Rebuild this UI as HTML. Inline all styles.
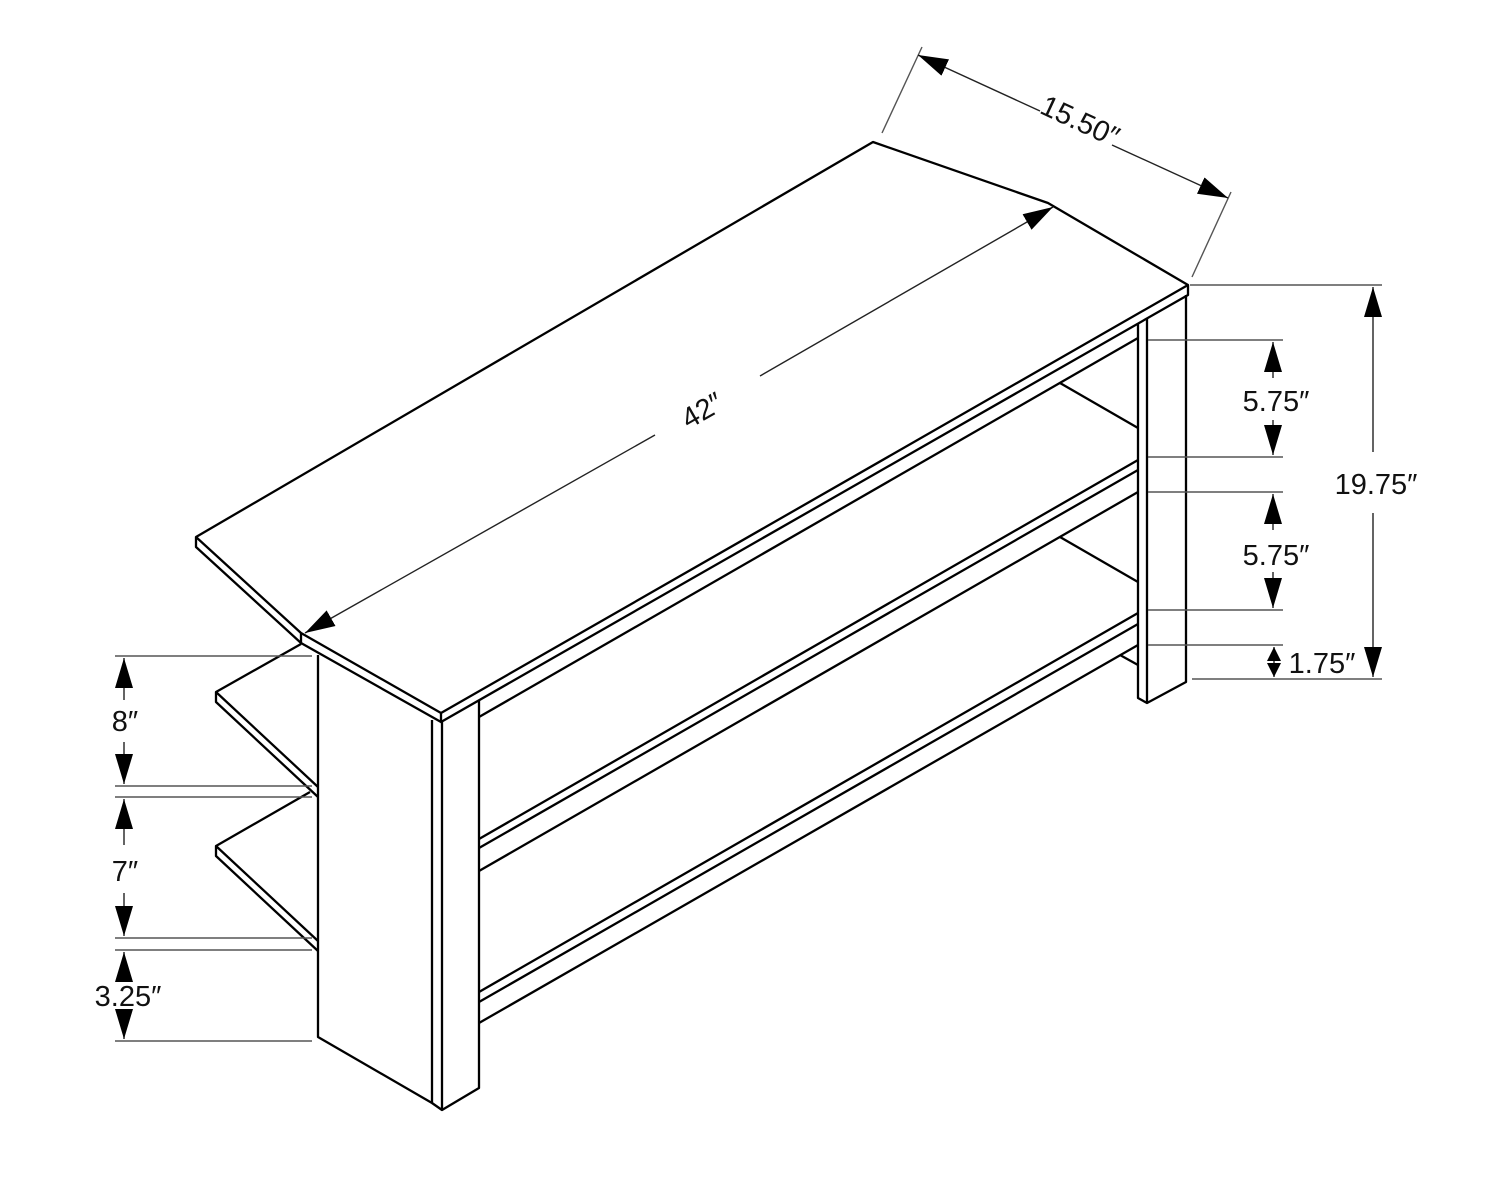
<!DOCTYPE html>
<html><head><meta charset="utf-8"><style>
html,body{margin:0;padding:0;background:#fff}
svg{display:block}
text{font-family:"Liberation Sans",sans-serif;font-size:29px;fill:#111}
</style></head><body>
<svg width="1500" height="1178" viewBox="0 0 1500 1178" xmlns="http://www.w3.org/2000/svg">
<defs>
<marker id="ar" viewBox="0 0 10 10" refX="10" refY="5" markerWidth="14" markerHeight="14" markerUnits="userSpaceOnUse" orient="auto"><path d="M0,0 L10,5 L0,10 z" fill="#000"/></marker>
<marker id="arL" viewBox="0 0 10 10" refX="10" refY="5" markerWidth="30" markerHeight="30" markerUnits="userSpaceOnUse" orient="auto"><path d="M0,2 L10,5 L0,8 z" fill="#000"/></marker>
</defs>
<g fill="none" stroke="#000" stroke-width="2.3" stroke-linejoin="round">
<path d="M196,537 L873,142 L1048,203 L1188,285 L1188,295 L441,722 L441,713 L301,633 L196,537 L196,547 L301,643 L441,722"/>
<path d="M301,633 L301,643 M441,713 L1188,285"/>
<path d="M318,655 L318,1037 L432,1103 L442,1110 L479,1088 L479,700"/>
<path d="M432,720 L432,1103 M442,722 L442,1110"/>
<path d="M1138,323 L1138,698 L1147,703 L1186,682 L1186,295 M1147,318 L1147,703"/>
<path d="M479,717 L1138,338"/>
<path d="M479,839 L1138,460 M479,848 L1138,470 M479,871 L1138,492"/>
<path d="M479,992 L1138,613 M479,1002 L1138,624 M479,1023 L1138,645"/>
<path d="M1060,383 L1138,428 M1060,537 L1138,582 M1120,655 L1138,665"/>
<path d="M301,644 L216,692 L216,702 L318,797 M216,692 L318,787"/>
<path d="M310,792 L216,846 L216,856 L318,951 M216,846 L318,941"/>
</g>
<g stroke="#555" stroke-width="1.4" fill="none">
<path d="M115,656 H312 M115,786 H312 M115,797 H312 M115,938 H312 M115,950 H312 M115,1041 H312"/>
<path d="M1190,285 H1382 M1148,340 H1283 M1148,457 H1283 M1148,492 H1283 M1148,610 H1283 M1148,645 H1283 M1192,679 H1382"/>
<path d="M882,133 L922,47 M1192,277 L1231,192"/>
</g>
<g stroke="#222" stroke-width="1.4" fill="none">
<line x1="124" y1="700" x2="124" y2="658" marker-end="url(#arL)"/>
<line x1="124" y1="742" x2="124" y2="784" marker-end="url(#arL)"/>
<line x1="124" y1="845" x2="124" y2="799" marker-end="url(#arL)"/>
<line x1="124" y1="893" x2="124" y2="936" marker-end="url(#arL)"/>
<line x1="124" y1="975" x2="124" y2="952" marker-end="url(#arL)"/>
<line x1="124" y1="1016" x2="124" y2="1039" marker-end="url(#arL)"/>
<line x1="1273" y1="378" x2="1273" y2="342" marker-end="url(#arL)"/>
<line x1="1273" y1="420" x2="1273" y2="455" marker-end="url(#arL)"/>
<line x1="1273" y1="530" x2="1273" y2="494" marker-end="url(#arL)"/>
<line x1="1273" y1="572" x2="1273" y2="608" marker-end="url(#arL)"/>
<line x1="1274" y1="662" x2="1274" y2="647" marker-end="url(#ar)"/>
<line x1="1274" y1="662" x2="1274" y2="677" marker-end="url(#ar)"/>
<line x1="1373" y1="452" x2="1373" y2="287" marker-end="url(#arL)"/>
<line x1="1373" y1="513" x2="1373" y2="677" marker-end="url(#arL)"/>
<line x1="1040" y1="111" x2="918" y2="55" marker-end="url(#arL)"/>
<line x1="1112" y1="145" x2="1228" y2="198" marker-end="url(#arL)"/>
<line x1="655" y1="435" x2="305" y2="633" marker-end="url(#arL)"/>
<line x1="760" y1="376" x2="1053" y2="207" marker-end="url(#arL)"/>
</g>
<text x="125" y="731" text-anchor="middle">8″</text>
<text x="125" y="881" text-anchor="middle">7″</text>
<text x="128" y="1006" text-anchor="middle">3.25″</text>
<text x="1276" y="411" text-anchor="middle">5.75″</text>
<text x="1276" y="565" text-anchor="middle">5.75″</text>
<text x="1376" y="494" text-anchor="middle">19.75″</text>
<text x="1322" y="673" text-anchor="middle">1.75″</text>
<text x="0" y="0" text-anchor="middle" transform="translate(1076,130) rotate(24.9)">15.50″</text>
<text x="0" y="0" text-anchor="middle" transform="translate(707,419) rotate(-29.7)">42″</text>
</svg>
</body></html>
